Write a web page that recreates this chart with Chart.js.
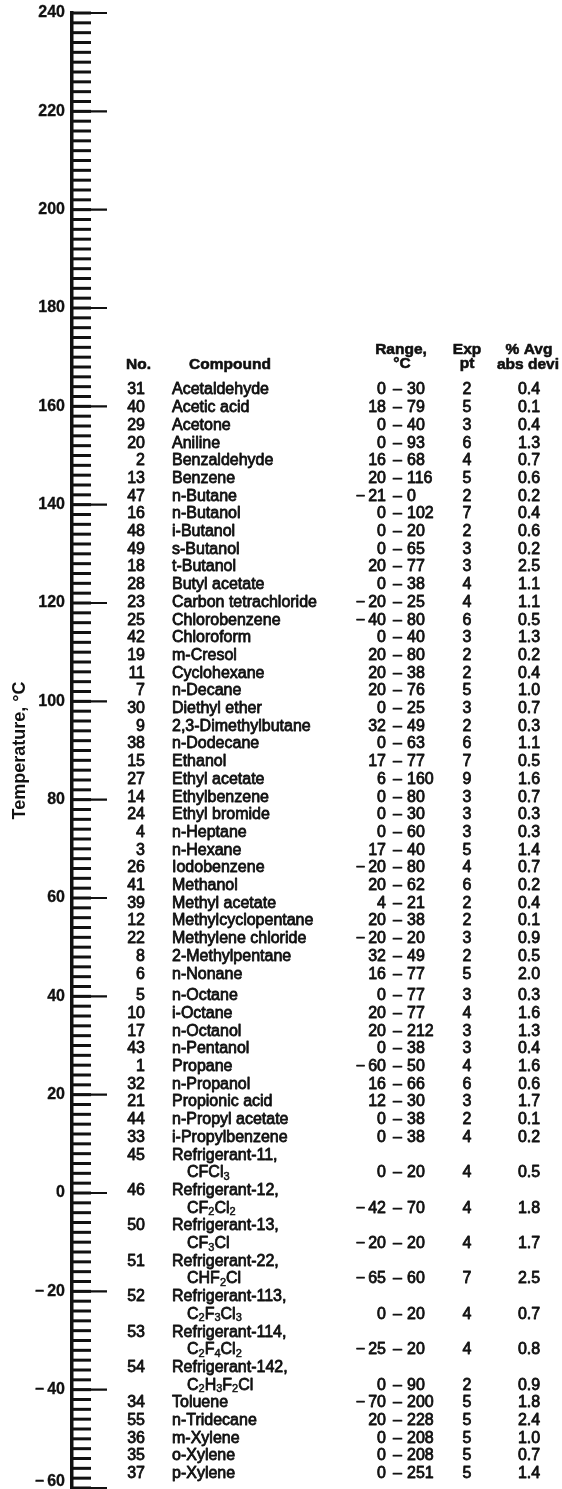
<!DOCTYPE html>
<html>
<head>
<meta charset="utf-8">
<script src="https://cdn.jsdelivr.net/npm/chart.js@4.4.0/dist/chart.umd.min.js"></script>
<style>
html,body{margin:0;padding:0;background:#fff;overflow:hidden}
canvas{display:block}
</style>
</head>
<body>
<canvas id="c" width="562" height="1489"></canvas>
<script>
// ---- Temperature axis ----
const tempTickValues = [240, 220, 200, 180, 160, 140, 120, 100, 80, 60, 40, 20, 0, -20, -40, -60];
const tempTickLabels = ['240', '220', '200', '180', '160', '140', '120', '100', '80', '60', '40', '20', '0', '−20', '−40', '−60'];
const axisTitle = 'Temperature, °C';

// ---- Table headers ----
const headerTop = ['Range,', 'Exp', '% Avg'];
const headerBottom = ['No.', 'Compound', '°C', 'pt', 'abs devi'];

// ---- Table data ----
const compoundNo = [31, 40, 29, 20, 2, 13, 47, 16, 48, 49, 18, 28, 23, 25, 42, 19, 11, 7, 30, 9,
  38, 15, 27, 14, 24, 4, 3, 26, 41, 39, 12, 22, 8, 6, 5, 10, 17, 43, 1, 32,
  21, 44, 33, 45, 46, 50, 51, 52, 53, 54, 34, 55, 36, 35, 37];
const compoundName = ['Acetaldehyde', 'Acetic acid', 'Acetone', 'Aniline', 'Benzaldehyde', 'Benzene',
  'n-Butane', 'n-Butanol', 'i-Butanol', 's-Butanol', 't-Butanol', 'Butyl acetate',
  'Carbon tetrachloride', 'Chlorobenzene', 'Chloroform', 'm-Cresol', 'Cyclohexane', 'n-Decane',
  'Diethyl ether', '2,3-Dimethylbutane', 'n-Dodecane', 'Ethanol', 'Ethyl acetate', 'Ethylbenzene',
  'Ethyl bromide', 'n-Heptane', 'n-Hexane', 'Iodobenzene', 'Methanol', 'Methyl acetate',
  'Methylcyclopentane', 'Methylene chloride', '2-Methylpentane', 'n-Nonane', 'n-Octane', 'i-Octane',
  'n-Octanol', 'n-Pentanol', 'Propane', 'n-Propanol', 'Propionic acid', 'n-Propyl acetate',
  'i-Propylbenzene', 'Refrigerant-11,', 'Refrigerant-12,', 'Refrigerant-13,', 'Refrigerant-22,',
  'Refrigerant-113,', 'Refrigerant-114,', 'Refrigerant-142,', 'Toluene', 'n-Tridecane',
  'm-Xylene', 'o-Xylene', 'p-Xylene'];
const compoundFormula = ['', '', '', '', '', '', '', '', '', '', '', '', '', '', '', '', '', '', '', '',
  '', '', '', '', '', '', '', '', '', '', '', '', '', '', '', '', '', '', '', '',
  '', '', '', 'CFCl₃', 'CF₂Cl₂', 'CF₃Cl', 'CHF₂Cl', 'C₂F₃Cl₃', 'C₂F₄Cl₂', 'C₂H₃F₂Cl',
  '', '', '', '', ''];
const rangeLow = [0, 18, 0, 0, 16, 20, -21, 0, 0, 0, 20, 0, -20, -40, 0, 20, 20, 20, 0, 32,
  0, 17, 6, 0, 0, 0, 17, -20, 20, 4, 20, -20, 32, 16, 0, 20, 20, 0, -60, 16,
  12, 0, 0, 0, -42, -20, -65, 0, -25, 0, -70, 20, 0, 0, 0];
const rangeHigh = [30, 79, 40, 93, 68, 116, 0, 102, 20, 65, 77, 38, 25, 80, 40, 80, 38, 76, 25, 49,
  63, 77, 160, 80, 30, 60, 40, 80, 62, 21, 38, 20, 49, 77, 77, 77, 212, 38, 50, 66,
  30, 38, 38, 20, 70, 20, 60, 20, 20, 90, 200, 228, 208, 208, 251];
const expPoints = [2, 5, 3, 6, 4, 5, 2, 7, 2, 3, 3, 4, 4, 6, 3, 2, 2, 5, 3, 2,
  6, 7, 9, 3, 3, 3, 5, 4, 6, 2, 2, 3, 2, 5, 3, 4, 3, 3, 4, 6,
  3, 2, 4, 4, 4, 4, 7, 4, 4, 2, 5, 5, 5, 5, 5];
const avgAbsDev = [0.4, 0.1, 0.4, 1.3, 0.7, 0.6, 0.2, 0.4, 0.6, 0.2, 2.5, 1.1, 1.1, 0.5, 1.3, 0.2, 0.4, 1.0, 0.7, 0.3,
  1.1, 0.5, 1.6, 0.7, 0.3, 0.3, 1.4, 0.7, 0.2, 0.4, 0.1, 0.9, 0.5, 2.0, 0.3, 1.6, 1.3, 0.4, 1.6, 0.6,
  1.7, 0.1, 0.2, 0.5, 1.8, 1.7, 2.5, 0.7, 0.8, 0.9, 1.8, 2.4, 1.0, 0.7, 1.4];

// ---- Drawing ----
const INK = '#111';
const FAM = '"Liberation Sans", Arial, Helvetica, sans-serif';
const DATA_FONT = '16px ' + FAM;
const SUB_FONT = '11px ' + FAM;
const HEAD_FONT = 'bold 15.5px ' + FAM;
const TICK_FONT = 'bold 16px ' + FAM;
const DATA_STROKE = 0.8;
const HEAD_STROKE = 0.6;
const SUBS = '₀₁₂₃₄₅₆₇₈₉';

function txt(ctx, s, x, y, align, font, stroke) {
  ctx.font = font;
  ctx.textAlign = align;
  ctx.textBaseline = 'middle';
  ctx.fillText(s, x, y);
  if (stroke) { ctx.lineWidth = stroke; ctx.strokeText(s, x, y); }
}

function signedRight(ctx, v, xRight, y, font, stroke) {
  const digits = String(Math.abs(v));
  ctx.font = font;
  const w = ctx.measureText(digits).width;
  txt(ctx, digits, xRight, y, 'right', font, stroke);
  if (v < 0) txt(ctx, '−', xRight - w - 3, y, 'right', font, stroke);
}

function signedLeft(ctx, v, xLeft, y, font, stroke) {
  const digits = String(Math.abs(v));
  let x = xLeft;
  if (v < 0) {
    ctx.font = font;
    const mw = ctx.measureText('−').width;
    txt(ctx, '−', x, y, 'left', font, stroke);
    x += mw + 3;
  }
  txt(ctx, digits, x, y, 'left', font, stroke);
}

function formula(ctx, s, x, y) {
  let cx = x;
  for (const ch of s) {
    const k = SUBS.indexOf(ch);
    if (k >= 0) {
      const d = String(k);
      txt(ctx, d, cx, y + 4, 'left', SUB_FONT, 0.5);
      ctx.font = SUB_FONT;
      cx += ctx.measureText(d).width;
    } else {
      txt(ctx, ch, cx, y, 'left', DATA_FONT, DATA_STROKE);
      ctx.font = DATA_FONT;
      cx += ctx.measureText(ch).width;
    }
  }
}

const nomoPlugin = {
  id: 'nomoTable',
  afterDraw(chart) {
    const ctx = chart.ctx;
    const ys = chart.scales.y;
    const axisX = ys.right;
    const H = chart.height;
    ctx.save();
    ctx.fillStyle = INK;
    ctx.strokeStyle = INK;
    ctx.lineCap = 'butt';
    ctx.lineJoin = 'round';

    // tick marks from the scale's own ticks
    ys.ticks.forEach(t => {
      const py = ys.getPixelForValue(t.value);
      const v = Math.round(t.value);
      ctx.lineWidth = 3;
      ctx.beginPath(); ctx.moveTo(axisX, py); ctx.lineTo(axisX + 19, py); ctx.stroke();
      if (v % 20 === 0) {
        ctx.lineWidth = 2.2;
        ctx.beginPath(); ctx.moveTo(axisX, py); ctx.lineTo(axisX + 35, py); ctx.stroke();
      }
    });

    // tick labels
    tempTickValues.forEach((v, i) => {
      let py = ys.getPixelForValue(v);
      py = Math.min(Math.max(py, 8), H - 7.5);
      const lab = tempTickLabels[i];
      if (lab.startsWith('−')) {
        const digits = lab.slice(1);
        ctx.font = TICK_FONT;
        const w = ctx.measureText(digits).width;
        txt(ctx, digits, 65, py, 'right', TICK_FONT, 0.3);
        txt(ctx, '−', 65 - w - 3, py, 'right', TICK_FONT, 0.3);
      } else {
        txt(ctx, lab, 65, py, 'right', TICK_FONT, 0.3);
      }
    });

    // headers
    txt(ctx, headerTop[0], 401, 350, 'center', HEAD_FONT, HEAD_STROKE);
    txt(ctx, headerTop[1], 467, 350, 'center', HEAD_FONT, HEAD_STROKE);
    txt(ctx, headerTop[2], 529, 350, 'center', HEAD_FONT, HEAD_STROKE);
    txt(ctx, headerBottom[0], 126, 365, 'left', HEAD_FONT, HEAD_STROKE);
    txt(ctx, headerBottom[1], 230, 365, 'center', HEAD_FONT, HEAD_STROKE);
    txt(ctx, headerBottom[2], 402, 364, 'center', HEAD_FONT, HEAD_STROKE);
    txt(ctx, headerBottom[3], 467, 364, 'center', HEAD_FONT, HEAD_STROKE);
    txt(ctx, headerBottom[4], 497, 365, 'left', HEAD_FONT, HEAD_STROKE);

    // rows
    const y0 = 390, lh = 17.7;
    let line = 0;
    compoundNo.forEach((no, i) => {
      const yA = y0 + line * lh + (line >= 34 ? 4 : 0);
      txt(ctx, String(no), 145, yA, 'right', DATA_FONT, DATA_STROKE);
      txt(ctx, compoundName[i], 172, yA, 'left', DATA_FONT, DATA_STROKE);
      let yV = yA;
      if (compoundFormula[i]) {
        line += 1;
        yV = y0 + line * lh + (line >= 34 ? 4 : 0);
        formula(ctx, compoundFormula[i], 187, yV);
      }
      signedRight(ctx, rangeLow[i], 386, yV, DATA_FONT, DATA_STROKE);
      txt(ctx, '–', 397.5, yV, 'center', DATA_FONT, DATA_STROKE);
      signedLeft(ctx, rangeHigh[i], 407, yV, DATA_FONT, DATA_STROKE);
      txt(ctx, String(expPoints[i]), 467, yV, 'center', DATA_FONT, DATA_STROKE);
      txt(ctx, avgAbsDev[i].toFixed(1), 529, yV, 'center', DATA_FONT, DATA_STROKE);
      line += 1;
    });
    ctx.restore();
  }
};

new Chart(document.getElementById('c'), {
  type: 'scatter',
  data: { datasets: [{ data: [] }] },
  options: {
    responsive: false,
    animation: false,
    devicePixelRatio: 1,
    layout: { padding: { top: 13, bottom: 1, left: 0, right: 0 } },
    plugins: { legend: { display: false }, tooltip: { enabled: false } },
    scales: {
      x: { display: false, min: 0, max: 1 },
      y: {
        type: 'linear',
        position: 'left',
        min: -60,
        max: 240,
        ticks: { display: false, stepSize: 2, autoSkip: false },
        grid: { display: false, drawTicks: false },
        border: { display: true, width: 3.5, color: INK },
        title: {
          display: true,
          text: axisTitle,
          color: INK,
          font: { family: FAM, size: 18, weight: 'bold' },
          padding: { top: 9, bottom: 0 }
        },
        afterFit(scale) { scale.width = 72; scale.paddingTop = 0; scale.paddingBottom = 0; }
      }
    }
  },
  plugins: [nomoPlugin]
});
</script>
</body>
</html>
